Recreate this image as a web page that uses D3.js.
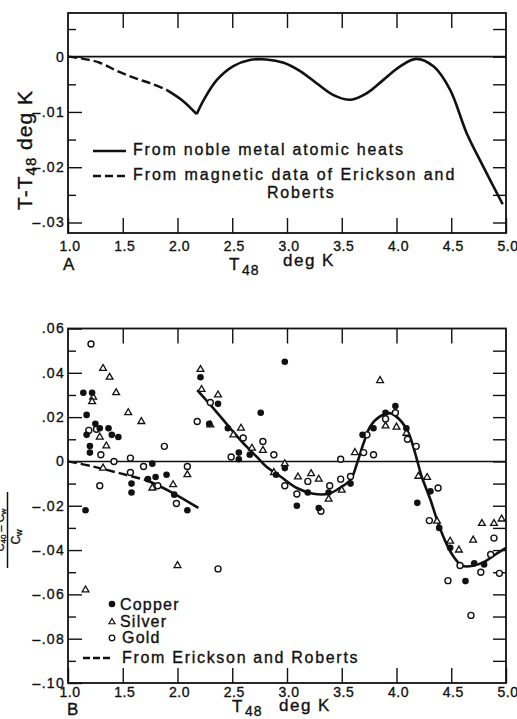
<!DOCTYPE html>
<html>
<head>
<meta charset="utf-8">
<script src="https://cdn.jsdelivr.net/npm/d3@7"></script>
<style>
body { margin: 0; background: #fff; }
svg { display: block; font-family: "Liberation Sans", Arial, sans-serif; }
svg text { stroke: #111; stroke-width: 0.35px; }
</style>
</head>
<body>
<div class="svg-area"></div>
<script>
// ---- panel A : T - T48 (deg K) vs T48
let curveA_dashed = [[1.0, 0], [1.12, -0.0003], [1.29, -0.0011], [1.44, -0.0025], [1.60, -0.0038], [1.75, -0.0048], [1.90, -0.006]];
let curveA_left = [[1.90, -0.006], [2.05, -0.008], [2.175, -0.0104]];
let curveA_right = [[2.175, -0.0104], [2.24, -0.0078], [2.36, -0.0042], [2.51, -0.0017], [2.66, -0.0006], [2.81, -0.0005],
    [2.97, -0.0011], [3.12, -0.0026], [3.27, -0.0048], [3.42, -0.0069], [3.58, -0.0078], [3.73, -0.0066], [3.88, -0.0042],
    [4.03, -0.0018], [4.18, -0.0004], [4.34, -0.0018], [4.49, -0.006], [4.64, -0.0138], [4.79, -0.0198], [4.97, -0.0267]];

// ---- panel B : (C40 - Cw)/Cw vs T48
let copper = [[1.14, 0.031], [1.22, 0.031], [1.17, 0.021], [1.17, 0.012], [1.25, 0.017], [1.29, 0.015], [1.20, 0.007],
    [1.20, 0.004], [1.37, 0.015], [1.40, 0.012], [1.46, 0.011], [1.16, -0.022], [1.58, -0.010], [1.58, -0.014],
    [1.77, -0.001], [1.73, -0.008], [1.80, -0.007], [1.90, -0.006], [1.97, -0.015], [2.09, -0.022],
    [2.21, 0.038], [2.29, 0.017], [2.37, 0.026], [2.46, 0.015], [2.56, 0.004], [2.56, 0.001], [2.66, 0.003],
    [2.76, 0.022], [2.98, 0.045], [2.98, -0.003], [2.90, -0.006], [3.09, -0.020], [3.19, -0.014], [3.29, -0.021],
    [3.38, -0.014], [3.58, -0.010], [3.69, 0.012], [3.79, 0.015], [3.90, 0.022], [3.99, 0.025], [4.09, 0.015],
    [4.19, -0.0187], [4.31, -0.0135], [4.39, -0.030], [4.49, -0.039], [4.63, -0.054], [4.71, -0.046], [4.80, -0.0465]];
let silver = [[1.32, 0.042], [1.38, 0.038], [1.44, 0.031], [1.55, 0.022], [1.67, 0.018], [1.23, 0.029], [1.22, 0.027],
    [1.29, 0.011], [1.35, 0.007], [1.32, -0.003], [1.77, -0.012], [1.96, -0.0105], [2.09, -0.006], [1.16, -0.058],
    [2.00, -0.047], [2.21, 0.0415], [2.22, 0.0325], [2.30, 0.0165], [2.37, 0.030], [2.51, 0.012], [2.58, 0.015],
    [2.68, 0.006], [2.78, 0.005], [2.98, -0.001], [2.88, -0.005], [3.10, -0.007], [3.22, -0.0055], [3.29, -0.008],
    [3.38, -0.017], [3.50, -0.013], [3.62, 0.004], [3.85, 0.0365], [3.90, 0.016], [4.00, 0.0155], [4.09, 0.0127],
    [4.20, -0.0067], [4.28, -0.0072], [4.37, -0.027], [4.49, -0.036], [4.57, -0.040], [4.70, -0.0355], [4.78, -0.028],
    [4.89, -0.028], [4.96, -0.026]];
let gold = [[1.21, 0.053], [1.19, 0.014], [1.26, 0.0145], [1.30, 0.003], [1.29, -0.011], [1.42, 0.0], [1.57, 0.0015],
    [1.57, -0.005], [1.69, -0.0023], [1.82, -0.011], [1.88, 0.0068], [1.99, -0.019], [2.09, -0.0023], [2.18, 0.018],
    [2.37, -0.0485], [2.30, 0.0266], [2.49, 0.002], [2.60, 0.0106], [2.78, 0.009], [2.88, 0.003], [2.98, -0.011],
    [3.09, -0.0147], [3.19, -0.009], [3.31, -0.0225], [3.39, -0.011], [3.49, 0.001], [3.49, -0.008], [3.58, -0.0068],
    [3.70, 0.004], [3.73, 0.012], [3.79, 0.003], [3.90, 0.0192], [3.99, 0.022], [4.10, 0.010], [4.18, 0.0068],
    [4.38, -0.012], [4.30, -0.0267], [4.58, -0.047], [4.86, -0.042], [4.89, -0.0346], [4.77, -0.050], [4.94, -0.0505],
    [4.47, -0.0538], [4.68, -0.0695]];
let curveB = [[2.18, 0.0322], [2.34, 0.0233], [2.48, 0.0151], [2.60, 0.0083], [2.72, 0.0023], [2.81, -0.0023],
    [2.94, -0.0068], [3.09, -0.012], [3.24, -0.0146], [3.38, -0.0146], [3.48, -0.012], [3.58, -0.0083], [3.64, -0.0008],
    [3.70, 0.0083], [3.76, 0.0158], [3.85, 0.0203], [3.94, 0.0218], [4.03, 0.0188], [4.11, 0.0128], [4.17, 0.0038],
    [4.23, -0.0068], [4.31, -0.0173], [4.37, -0.0263], [4.44, -0.0354], [4.52, -0.0429], [4.60, -0.0471], [4.70, -0.0471],
    [4.81, -0.0451], [4.90, -0.0421], [5.0, -0.039]];
let ericksonB_dashed = [[1.0, 0], [1.23, -0.0023], [1.47, -0.0053], [1.72, -0.0085]];
let ericksonB_solid = [[1.72, -0.0085], [1.93, -0.0135], [2.19, -0.021]];

// ticks and labels
let xTicks = [1.0, 1.5, 2.0, 2.5, 3.0, 3.5, 4.0, 4.5, 5.0];
let xTickLabels = ["1.0", "1.5", "2.0", "2.5", "3.0", "3.5", "4.0", "4.5", "5.0"];
let yTicksA = [0, -0.01, -0.02, -0.03];
let yTickLabelsA = ["0", "\u2013.01", "\u2013.02", "\u2013.03"];
let yMinorA = [0.005, -0.005, -0.015, -0.025];
let yTicksB = [0.06, 0.04, 0.02, 0, -0.02, -0.04, -0.06, -0.08, -0.10];
let yTickLabelsB = [".06", ".04", ".02", "0", "\u2013.02", "\u2013.04", "\u2013.06", "\u2013.08", "\u2013.10"];
let yMinorB = [0.05, 0.03, 0.01, -0.01, -0.03, -0.05, -0.07, -0.09];
let legendA = ["From noble metal atomic heats", "From magnetic data of Erickson and", "Roberts"];
let legendB = ["Copper", "Silver", "Gold", "From Erickson and Roberts"];

let svg = d3.select(".svg-area").append("svg")
    .attr("width", 517)
    .attr("height", 719)

let ink = "#111";
let x = d3.scaleLinear().domain([1, 5]).range([68, 506]);
let yA = d3.scaleLinear().domain([0.0079, -0.0319]).range([13, 233]);
let yB = d3.scaleLinear().domain([0.06, -0.10]).range([328.5, 683]);

function labelFor(vals, labels) {
    return function (d) {
        let i = vals.indexOf(d);
        return i < 0 ? "" : labels[i];
    }
}

function styleAxis(g) {
    g.select(".domain").remove();
    g.selectAll("line").attr("stroke", ink).attr("stroke-width", 1.4);
    g.selectAll("text").attr("fill", ink).attr("font-family", "Liberation Sans, Arial, sans-serif");
}

function drawPanel(y, top, bottom, majorY, majorLabels, minorY, rightY, bottomPad) {
    // x axis, bottom with labels
    svg.append("g").attr("transform", "translate(0," + bottom + ")")
        .call(d3.axisBottom(x).tickValues(xTicks).tickSize(-15).tickPadding(bottomPad)
            .tickFormat(labelFor(xTicks, xTickLabels)))
        .call(styleAxis)
        .selectAll("text").attr("font-size", 14).attr("letter-spacing", 0.5).attr("dx", 1.5);
    // x axis, top
    svg.append("g").attr("transform", "translate(0," + top + ")")
        .call(d3.axisTop(x).tickValues(xTicks.slice(1, -1)).tickSize(-15).tickFormat(""))
        .call(styleAxis);
    // left major
    svg.append("g").attr("transform", "translate(68,0)")
        .call(d3.axisLeft(y).tickValues(majorY).tickSize(-14).tickPadding(3)
            .tickFormat(labelFor(majorY, majorLabels)))
        .call(styleAxis)
        .selectAll("text").attr("font-size", 14).attr("letter-spacing", 1.3);
    // left minor
    svg.append("g").attr("transform", "translate(68,0)")
        .call(d3.axisLeft(y).tickValues(minorY).tickSize(-8).tickFormat(""))
        .call(styleAxis);
    // right
    svg.append("g").attr("transform", "translate(506,0)")
        .call(d3.axisRight(y).tickValues(rightY).tickSize(-13).tickFormat(""))
        .call(styleAxis);
    // frame
    svg.append("rect")
        .attr("x", 68).attr("y", top)
        .attr("width", 438).attr("height", bottom - top)
        .attr("fill", "none").attr("stroke", ink).attr("stroke-width", 1.8);
    // zero line
    svg.append("line")
        .attr("x1", 68).attr("x2", 506)
        .attr("y1", y(0)).attr("y2", y(0))
        .attr("stroke", ink).attr("stroke-width", 1.6);
}

// ===== panel A
let rightA = d3.range(1, -7, -1).map(d => d * 0.005);
drawPanel(yA, 13, 233, yTicksA, yTickLabelsA, yMinorA, rightA, 8);

let lineA = d3.line().x(d => x(d[0])).y(d => yA(d[1])).curve(d3.curveCatmullRom.alpha(0.5));
svg.append("path").attr("d", lineA(curveA_dashed))
    .attr("fill", "none").attr("stroke", ink).attr("stroke-width", 2.4).attr("stroke-dasharray", "9,4");
svg.append("path").attr("d", lineA(curveA_left))
    .attr("fill", "none").attr("stroke", ink).attr("stroke-width", 2.6);
svg.append("path").attr("d", lineA(curveA_right))
    .attr("fill", "none").attr("stroke", ink).attr("stroke-width", 2.6).attr("stroke-linejoin", "round");

// legend A
svg.append("line").attr("x1", 93).attr("x2", 126).attr("y1", 151).attr("y2", 151)
    .attr("stroke", ink).attr("stroke-width", 2.6);
svg.append("line").attr("x1", 93).attr("x2", 126).attr("y1", 176).attr("y2", 176)
    .attr("stroke", ink).attr("stroke-width", 2.4).attr("stroke-dasharray", "8,4");
let legAPos = [[133, 155], [133, 180], [267, 198]];
svg.selectAll(".legA").data(legendA).enter().append("text")
    .attr("x", (d, i) => legAPos[i][0])
    .attr("y", (d, i) => legAPos[i][1])
    .attr("font-size", 16).attr("letter-spacing", (d, i) => i === 1 ? 1.95 : 1.8).attr("fill", ink)
    .text(d => d);

// axis titles A
svg.append("text").attr("x", 63).attr("y", 270).attr("font-size", 17).attr("fill", ink).text("A");
let tA = svg.append("text").attr("y", 270).attr("font-size", 17).attr("fill", ink);
tA.append("tspan").attr("x", 229).text("T");
tA.append("tspan").attr("x", 242).attr("y", 275).attr("font-size", 14).attr("letter-spacing", 1).text("48");
tA.append("tspan").attr("x", 283).attr("y", 266).attr("letter-spacing", 1.5).text("deg K");

let yTitleA = svg.append("text")
    .attr("transform", "translate(32,150) rotate(-90)")
    .attr("text-anchor", "middle").attr("font-size", 21).attr("letter-spacing", 1).attr("fill", ink);
yTitleA.append("tspan").text("T-T");
yTitleA.append("tspan").attr("font-size", 15).attr("dy", 4).text("48");
yTitleA.append("tspan").attr("dy", -4).text(" deg K");

// ===== panel B
let rightB = d3.range(5, -10, -1).map(d => d * 0.01);
drawPanel(yB, 328.5, 683, yTicksB, yTickLabelsB, yMinorB, rightB, 4);

let lineB = d3.line().x(d => x(d[0])).y(d => yB(d[1])).curve(d3.curveCatmullRom.alpha(0.5));
svg.append("path").attr("d", lineB(ericksonB_dashed))
    .attr("fill", "none").attr("stroke", ink).attr("stroke-width", 2.4).attr("stroke-dasharray", "9,4");
svg.append("path").attr("d", lineB(ericksonB_solid))
    .attr("fill", "none").attr("stroke", ink).attr("stroke-width", 2.6);
svg.append("path").attr("d", lineB(curveB))
    .attr("fill", "none").attr("stroke", ink).attr("stroke-width", 2.6);

let tri = d3.symbol().type(d3.symbolTriangle).size(20);

svg.selectAll(".silver").data(silver).enter().append("path")
    .attr("class", "silver")
    .attr("d", tri)
    .attr("transform", d => "translate(" + x(d[0]) + "," + yB(d[1]) + ")")
    .attr("fill", "#fff").attr("stroke", ink).attr("stroke-width", 1.3);
svg.selectAll(".gold").data(gold).enter().append("circle")
    .attr("class", "gold")
    .attr("cx", d => x(d[0])).attr("cy", d => yB(d[1])).attr("r", 3)
    .attr("fill", "#fff").attr("stroke", ink).attr("stroke-width", 1.4);
svg.selectAll(".copper").data(copper).enter().append("circle")
    .attr("class", "copper")
    .attr("cx", d => x(d[0])).attr("cy", d => yB(d[1])).attr("r", 3.3)
    .attr("fill", ink);

// legend B
svg.append("circle").attr("cx", 112).attr("cy", 604).attr("r", 3.3).attr("fill", ink);
svg.append("path").attr("d", d3.symbol().type(d3.symbolTriangle).size(16)())
    .attr("transform", "translate(112,622)").attr("fill", "#fff").attr("stroke", ink).attr("stroke-width", 1.2);
svg.append("circle").attr("cx", 112).attr("cy", 638).attr("r", 2.8)
    .attr("fill", "#fff").attr("stroke", ink).attr("stroke-width", 1.3);
svg.append("line").attr("x1", 83).attr("x2", 111).attr("y1", 658).attr("y2", 658)
    .attr("stroke", ink).attr("stroke-width", 2.4).attr("stroke-dasharray", "7,3");
let legBPos = [[120, 610], [120, 627], [122, 643], [122, 663]];
svg.selectAll(".legB").data(legendB).enter().append("text")
    .attr("x", (d, i) => legBPos[i][0])
    .attr("y", (d, i) => legBPos[i][1])
    .attr("font-size", 16).attr("letter-spacing", (d, i) => i === 3 ? 1.7 : 1.2).attr("fill", ink)
    .text(d => d);

// axis titles B
svg.append("text").attr("x", 67).attr("y", 715).attr("font-size", 17).attr("fill", ink).text("B");
let tB = svg.append("text").attr("y", 712).attr("font-size", 17).attr("fill", ink);
tB.append("tspan").attr("x", 232).text("T");
tB.append("tspan").attr("x", 245).attr("y", 716).attr("font-size", 14).attr("letter-spacing", 1).text("48");
tB.append("tspan").attr("x", 279).attr("y", 711).attr("letter-spacing", 1.5).text("deg K");

// y title B, mostly cut by the left edge as in the source
let fracB = svg.append("g");
let num = fracB.append("text").attr("transform", "translate(4,530) rotate(-90)")
    .attr("text-anchor", "middle").attr("font-size", 11).attr("fill", ink);
num.append("tspan").text("C");
num.append("tspan").attr("font-size", 8).attr("dy", 2).text("40");
num.append("tspan").attr("dy", -2).text(" \u2013 C");
num.append("tspan").attr("font-size", 8).attr("dy", 2).text("w");
fracB.append("line").attr("x1", 7.5).attr("x2", 7.5).attr("y1", 492).attr("y2", 568)
    .attr("stroke", ink).attr("stroke-width", 1.5);
let den = fracB.append("text").attr("transform", "translate(20,537) rotate(-90)")
    .attr("text-anchor", "middle").attr("font-size", 12).attr("fill", ink);
den.append("tspan").text("C");
den.append("tspan").attr("font-size", 9).attr("dy", 2).text("w");
</script>
</body>
</html>
